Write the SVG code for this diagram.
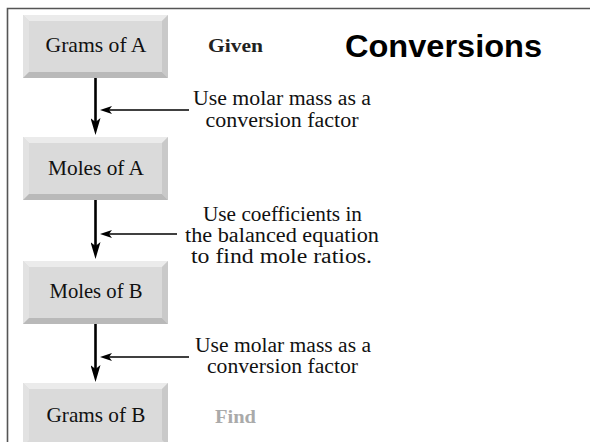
<svg xmlns="http://www.w3.org/2000/svg" width="590" height="442" viewBox="0 0 590 442">
<style>
.face{fill:#dadada}
.bt{fill:#ebebeb}
.bl{fill:#e2e2e2}
.br{fill:#c9c9c9}
.bb{fill:#b9b9b9}
.box{font-family:"Liberation Serif","Times New Roman",serif;font-size:21.5px;fill:#111;text-anchor:middle}
.lab{font-family:"Liberation Serif","Times New Roman",serif;font-size:20.5px;fill:#111;text-anchor:middle}
.tag{font-family:"Liberation Serif","Times New Roman",serif;font-size:19px;font-weight:bold}
.title{font-family:"Liberation Sans",Arial,sans-serif;font-size:32px;font-weight:bold;fill:#000}
.v{stroke:#000;stroke-width:2.6;fill:none}
.h{stroke:#000;stroke-width:1.5;fill:none}
</style>
<defs>
<marker id="av" viewBox="0 0 17 10" refX="4" refY="5" markerWidth="17" markerHeight="10" markerUnits="userSpaceOnUse" orient="auto">
<path d="M0,0 L17,5 L0,10 L4,5 Z" fill="#000"/>
</marker>
<marker id="ah" viewBox="0 0 12 8" refX="3" refY="4" markerWidth="12" markerHeight="8" markerUnits="userSpaceOnUse" orient="auto">
<path d="M0,0 L12,4 L0,8 L3,4 Z" fill="#000"/>
</marker>
</defs>
<rect width="590" height="442" fill="#fff"/>
<path d="M7.5,442 V8.5 H590" fill="none" stroke="#555" stroke-width="1.6"/>

<g id="gramsA">
<rect x="23" y="15" width="145" height="63" class="face"/>
<polygon points="23,15 168,15 162,21 29,21" class="bt"/>
<polygon points="23,15 29,21 29,72 23,78" class="bl"/>
<polygon points="168,15 168,78 162,72 162,21" class="br"/>
<polygon points="23,78 29,72 162,72 168,78" class="bb"/>
<text x="96" y="52" class="box" textLength="101" lengthAdjust="spacingAndGlyphs">Grams of A</text>
</g>
<g id="molesA">
<rect x="23" y="137" width="145" height="63" class="face"/>
<polygon points="23,137 168,137 162,143 29,143" class="bt"/>
<polygon points="23,137 29,143 29,194 23,200" class="bl"/>
<polygon points="168,137 168,200 162,194 162,143" class="br"/>
<polygon points="23,200 29,194 162,194 168,200" class="bb"/>
<text x="96" y="175" class="box" textLength="96" lengthAdjust="spacingAndGlyphs">Moles of A</text>
</g>
<g id="molesB">
<rect x="23" y="261" width="145" height="63" class="face"/>
<polygon points="23,261 168,261 162,267 29,267" class="bt"/>
<polygon points="23,261 29,267 29,318 23,324" class="bl"/>
<polygon points="168,261 168,324 162,318 162,267" class="br"/>
<polygon points="23,324 29,318 162,318 168,324" class="bb"/>
<text x="96" y="298" class="box" textLength="93" lengthAdjust="spacingAndGlyphs">Moles of B</text>
</g>
<g id="gramsB">
<rect x="23" y="383" width="145" height="63" class="face"/>
<polygon points="23,383 168,383 162,389 29,389" class="bt"/>
<polygon points="23,383 29,389 29,440 23,446" class="bl"/>
<polygon points="168,383 168,446 162,440 162,389" class="br"/>
<text x="96" y="422" class="box" textLength="99" lengthAdjust="spacingAndGlyphs">Grams of B</text>
</g>

<g id="connectors">
<line x1="95.5" y1="78" x2="95.5" y2="122" class="v" marker-end="url(#av)"/>
<line x1="95.5" y1="200" x2="95.5" y2="246" class="v" marker-end="url(#av)"/>
<line x1="95.5" y1="324" x2="95.5" y2="369" class="v" marker-end="url(#av)"/>
<line x1="189" y1="110" x2="109" y2="110" class="h" marker-end="url(#ah)"/>
<line x1="177" y1="234" x2="109" y2="234" class="h" marker-end="url(#ah)"/>
<line x1="189" y1="357" x2="109" y2="357" class="h" marker-end="url(#ah)"/>
</g>

<g id="labels">
<text x="282" y="105" class="lab" textLength="178" lengthAdjust="spacingAndGlyphs">Use molar mass as a</text>
<text x="282" y="127" class="lab" textLength="153" lengthAdjust="spacingAndGlyphs">conversion factor</text>
<text x="282.5" y="221" class="lab" textLength="159" lengthAdjust="spacingAndGlyphs">Use coefficients in</text>
<text x="282" y="242" class="lab" textLength="194" lengthAdjust="spacingAndGlyphs">the balanced equation</text>
<text x="281.5" y="263" class="lab" textLength="181" lengthAdjust="spacingAndGlyphs">to find mole ratios.</text>
<text x="283" y="352" class="lab" textLength="176" lengthAdjust="spacingAndGlyphs">Use molar mass as a</text>
<text x="282.5" y="373" class="lab" textLength="151" lengthAdjust="spacingAndGlyphs">conversion factor</text>
</g>

<g id="given"><text x="208" y="52" class="tag" fill="#222" textLength="55" lengthAdjust="spacingAndGlyphs">Given</text></g>
<g id="find"><text x="215" y="423" class="tag" fill="#aaaaaa" textLength="41" lengthAdjust="spacingAndGlyphs">Find</text></g>
<g id="title"><text x="345" y="57" class="title" textLength="197" lengthAdjust="spacingAndGlyphs">Conversions</text></g>
</svg>
